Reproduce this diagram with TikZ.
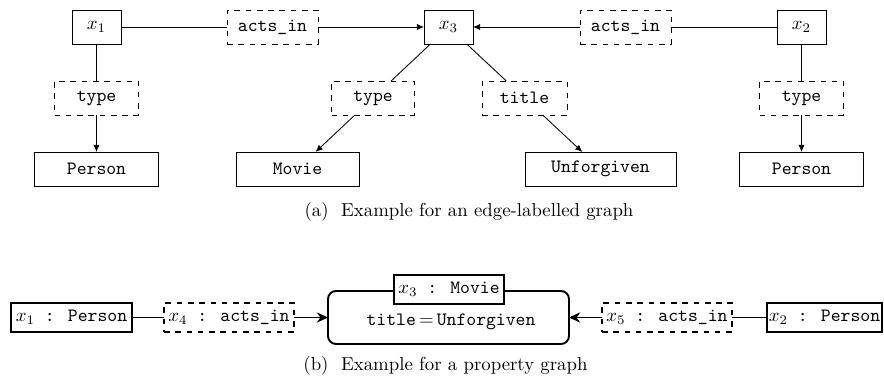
\documentclass[tikz,border=0pt]{standalone}
\usetikzlibrary{arrows.meta}
\def\PXU{0.532pt}
\begin{document}
\begin{tikzpicture}[x=0.532pt,y=-0.532pt,
  every node/.style={inner sep=1pt, outer sep=0pt},
  vbox/.style={draw, line width=0.45pt, minimum height=34*\PXU, fill=white},
  ebox/.style={vbox, dashed},
  pbox/.style={draw, line width=1pt, minimum height=29*\PXU, fill=white},
  pebox/.style={pbox, dashed},
  tl/.style={line width=0.45pt},
  ta/.style={tl, -{Latex[length=3.8pt,width=3.3pt]}},
  bl/.style={line width=1pt},
  ba/.style={bl, -{Stealth[length=6pt,width=5.5pt,inset=2pt]}},
  captext/.style={font=\normalsize}
]
\useasboundingbox (0,0) rectangle (884,383);

% ---- (a) edge-labelled graph ----
\node[vbox, minimum width=49*\PXU] (x1) at (96.5,27) {$x_1$};
\node[ebox, minimum width=91*\PXU] (a1) at (272.5,27) {\texttt{acts\_in}};
\node[vbox, minimum width=49*\PXU] (x3) at (448.5,27) {$x_3$};
\node[ebox, minimum width=91*\PXU] (a2) at (625.5,27) {\texttt{acts\_in}};
\node[vbox, minimum width=49*\PXU] (x2) at (801.5,27) {$x_2$};

\node[ebox, minimum width=84*\PXU] (t1) at (96.5,98) {\texttt{type}};
\node[vbox, minimum width=124*\PXU] (p1) at (96.5,169) {\texttt{Person}};
\node[ebox, minimum width=83*\PXU] (t2) at (373,98) {\texttt{type}};
\node[vbox, minimum width=123*\PXU] (mv) at (297.5,169) {\texttt{Movie}};
\node[ebox, minimum width=85*\PXU] (t3) at (524.5,98) {\texttt{title}};
\node[vbox, minimum width=151*\PXU] (un) at (600.5,169) {\texttt{Unforgiven}};
\node[ebox, minimum width=84*\PXU] (t4) at (801.5,98) {\texttt{type}};
\node[vbox, minimum width=124*\PXU] (p2) at (801.5,169) {\texttt{Person}};

\draw[tl] (x1) -- (a1);
\draw[ta] (a1) -- (x3);
\draw[tl] (x2) -- (a2);
\draw[ta] (a2) -- (x3);
\draw[tl] (x1) -- (t1);
\draw[ta] (t1) -- (p1);
\draw[tl] (x3) -- (t2);
\draw[ta] (t2) -- (mv);
\draw[tl] (x3) -- (t3);
\draw[ta] (t3) -- (un);
\draw[tl] (x2) -- (t4);
\draw[ta] (t4) -- (p2);

\node[captext] (capa) at (469,212) {(a)\ \ Example for an edge-labelled graph};

% ---- (b) property graph ----
\node[pbox, minimum width=121*\PXU] (n1) at (71.5,317.5) {$x_1$\texttt{ : Person}};
\node[pebox, minimum width=130*\PXU] (n4) at (229,317.5) {$x_4$\texttt{ : acts\_in}};
\node[draw, line width=1pt, rounded corners=8*\PXU, minimum width=241*\PXU, minimum height=53*\PXU] (m) at (448.5,317.5) {};
\node (mt) at (451,322) {\texttt{title}$\,$=$\,$\texttt{Unforgiven}};
\node[pbox, minimum width=110*\PXU] (ml) at (449,289.5) {$x_3$\texttt{ : Movie}};
\node[pebox, minimum width=130*\PXU] (n5) at (667,317.5) {$x_5$\texttt{ : acts\_in}};
\node[pbox, minimum width=115*\PXU] (n2) at (824.5,317.5) {$x_2$\texttt{ : Person}};

\draw[bl] (n1) -- (n4);
\draw[ba] (n4) -- (m);
\draw[bl] (n2) -- (n5);
\draw[ba] (n5) -- (m);

\node[captext] (capb) at (445.5,366) {(b)\ \ Example for a property graph};
\end{tikzpicture}
\end{document}
